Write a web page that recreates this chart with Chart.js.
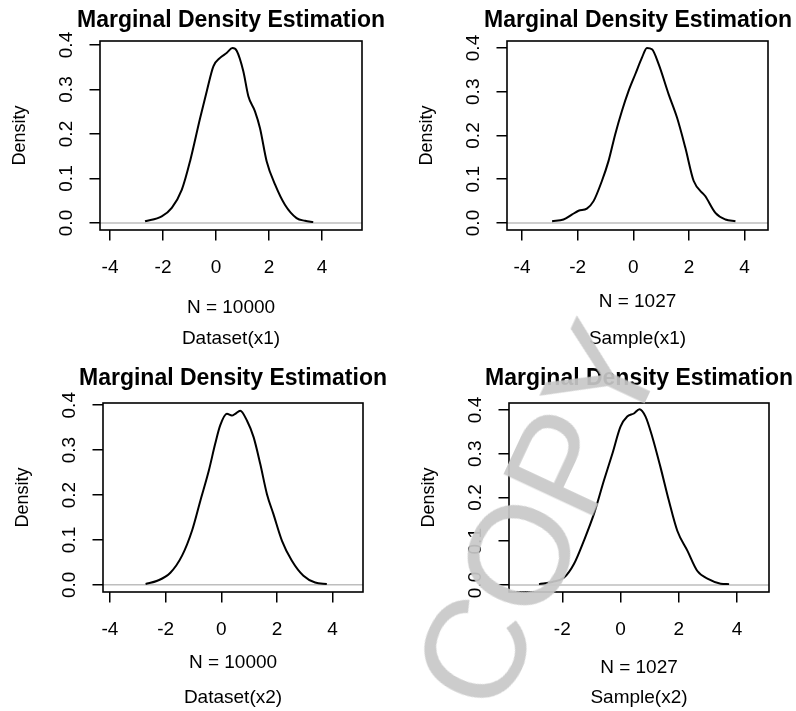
<!DOCTYPE html>
<html>
<head>
<meta charset="utf-8">
<script src="https://cdn.jsdelivr.net/npm/chart.js@4/dist/chart.umd.min.js"></script>
<style>
  html, body { margin: 0; padding: 0; background: #ffffff; width: 796px; height: 711px; overflow: hidden; position: relative; }
  canvas { position: absolute; }
  #wm { position: absolute; left: 538px; top: 516px; font-family: "Liberation Sans", Arial, sans-serif; font-size: 142px; color: rgba(200,200,200,0.92); white-space: nowrap; transform: translate(-50%, -50%) rotate(-65deg); line-height: 1; pointer-events: none; }
</style>
</head>
<body>
<canvas id="c1"></canvas>
<canvas id="c2"></canvas>
<canvas id="c3"></canvas>
<canvas id="c4"></canvas>
<div id="wm">COPY</div>
<script>
// ---------- Data ----------
const chartTitle = "Marginal Density Estimation";
const yAxisTitle = "Density";

const xTicksA = [-4, -2, 0, 2, 4];
const xTicksB = [-2, 0, 2, 4];
const xTickLabelsA = ["-4", "-2", "0", "2", "4"];
const xTickLabelsB = ["-2", "0", "2", "4"];
const yTicks = [0, 0.1, 0.2, 0.3, 0.4];
const yTickLabels = ["0.0", "0.1", "0.2", "0.3", "0.4"];

const subLabels = ["N = 10000", "N = 1027", "N = 10000", "N = 1027"];
const axisLabels = ["Dataset(x1)", "Sample(x1)", "Dataset(x2)", "Sample(x2)"];

// Dataset(x1)
const datasetX1_x = [-2.68, -2.05, -1.67, -1.29, -0.98, -0.60, -0.35, -0.10, 0.15, 0.40, 0.62, 0.78, 1.03, 1.22, 1.47, 1.66, 1.91, 2.23, 2.60, 3.04, 3.36, 3.67];
const datasetX1_y = [0.004, 0.015, 0.034, 0.075, 0.139, 0.236, 0.296, 0.352, 0.371, 0.382, 0.393, 0.387, 0.341, 0.285, 0.251, 0.213, 0.139, 0.086, 0.041, 0.011, 0.005, 0.002];

// Sample(x1)
const sampleX1_x = [-2.92, -2.51, -2.21, -1.97, -1.67, -1.43, -1.13, -0.89, -0.65, -0.41, -0.17, 0.07, 0.31, 0.49, 0.67, 0.91, 1.27, 1.57, 1.87, 2.17, 2.59, 2.95, 3.31, 3.67];
const sampleX1_y = [0.004, 0.008, 0.019, 0.028, 0.033, 0.050, 0.096, 0.142, 0.203, 0.256, 0.302, 0.340, 0.378, 0.400, 0.397, 0.363, 0.294, 0.241, 0.172, 0.096, 0.061, 0.023, 0.008, 0.004];

// Dataset(x2)
const datasetX2_x = [-2.72, -2.30, -1.83, -1.41, -1.05, -0.75, -0.45, -0.22, -0.04, 0.20, 0.38, 0.50, 0.68, 0.92, 1.16, 1.40, 1.64, 1.87, 2.18, 2.53, 2.95, 3.37, 3.79];
const datasetX2_y = [0.002, 0.009, 0.027, 0.065, 0.121, 0.188, 0.254, 0.314, 0.355, 0.381, 0.377, 0.381, 0.388, 0.366, 0.329, 0.269, 0.202, 0.158, 0.098, 0.054, 0.020, 0.005, 0.002];

// Sample(x2)
const sampleX2_x = [-2.80, -2.34, -1.94, -1.60, -1.26, -0.91, -0.57, -0.28, 0.00, 0.23, 0.46, 0.65, 0.86, 1.09, 1.37, 1.66, 1.95, 2.30, 2.64, 3.04, 3.44, 3.73];
const sampleX2_y = [0.002, 0.007, 0.017, 0.048, 0.101, 0.163, 0.239, 0.300, 0.362, 0.385, 0.392, 0.402, 0.385, 0.339, 0.270, 0.193, 0.124, 0.078, 0.032, 0.013, 0.003, 0.002];

// ---------- Layout (positions, not data) ----------
const FONT = '"Liberation Sans", Arial, Helvetica, sans-serif';
const CW = 470, CH = 380;
const panels = [
  { id: 'c1', ct: 0,   box: { l: 100, r: 362, t: 41,  b: 230 }, xr: [-4.38, 5.51], yr: [-0.0157, 0.409], titleY: 20.2,  sub1Y: 307.7, sub2Y: 338.5, xs: datasetX1_x, ys: datasetX1_y, xt: xTicksA, xl: xTickLabelsA, k: 0 },
  { id: 'c2', ct: 0,   box: { l: 507, r: 768, t: 41,  b: 230 }, xr: [-4.54, 4.84], yr: [-0.016, 0.416],  titleY: 20.5,  sub1Y: 301.5, sub2Y: 338.5, xs: sampleX1_x,  ys: sampleX1_y,  xt: xTicksA, xl: xTickLabelsA, k: 1 },
  { id: 'c3', ct: 350, box: { l: 103, r: 363, t: 403, b: 592 }, xr: [-4.25, 5.09], yr: [-0.016, 0.405],  titleY: 378.2, sub1Y: 662.7, sub2Y: 697.7, xs: datasetX2_x, ys: datasetX2_y, xt: xTicksA, xl: xTickLabelsA, k: 2 },
  { id: 'c4', ct: 350, box: { l: 509, r: 769, t: 403, b: 592 }, xr: [-3.83, 5.10], yr: [-0.016, 0.416],  titleY: 378.5, sub1Y: 667.7, sub2Y: 697.7, xs: sampleX2_x,  ys: sampleX2_y,  xt: xTicksB, xl: xTickLabelsB, k: 3 }
];

const framePlugin = {
  id: 'rframe',
  beforeDatasetsDraw(chart) {
    const { ctx, chartArea } = chart;
    const y0 = chart.scales.y.getPixelForValue(0);
    ctx.save();
    ctx.strokeStyle = '#bebebe';
    ctx.lineWidth = 1.5;
    ctx.beginPath();
    ctx.moveTo(chartArea.left, y0);
    ctx.lineTo(chartArea.right, y0);
    ctx.stroke();
    ctx.restore();
  },
  afterDatasetsDraw(chart) {
    const { ctx, chartArea } = chart;
    ctx.save();
    ctx.strokeStyle = '#000';
    ctx.lineWidth = 1.6;
    ctx.strokeRect(chartArea.left, chartArea.top, chartArea.right - chartArea.left, chartArea.bottom - chartArea.top);
    ctx.restore();
  }
};

panels.forEach(p => {
  const cv = document.getElementById(p.id);
  const cl = Math.round((p.box.l + p.box.r) / 2 - CW / 2);
  cv.width = CW; cv.height = CH;
  cv.style.left = cl + 'px'; cv.style.top = p.ct + 'px';

  const titleSize = 23, titleLH = titleSize * 1.2;
  const tPadTop = p.titleY - p.ct - titleLH / 2;
  const tPadBot = (p.box.t - p.ct) - titleLH - tPadTop;

  const subSize = 19;
  const L = p.sub2Y - p.sub1Y;
  const xTitlePadBot = (p.ct + CH) - p.sub2Y - L / 2;

  const yTitleSize = 18, yTitleLH = yTitleSize * 1.2;
  const yTitlePadTop = (p.box.l - 80) - cl - yTitleLH / 2;

  const tickLen = 10.5;
  const tickFont = 19;
  const widest = 1.39 * tickFont;
  const yTickPad = 34 - 1 - tickLen - widest / 2;

  const points = p.xs.map((x, i) => ({ x: x, y: p.ys[i] }));

  new Chart(cv, {
    type: 'line',
    data: {
      datasets: [{
        data: points,
        borderColor: '#000',
        borderWidth: 2,
        pointRadius: 0,
        fill: false,
        cubicInterpolationMode: 'monotone'
      }]
    },
    options: {
      responsive: false,
      animation: false,
      devicePixelRatio: 1,
      events: [],
      layout: { padding: 0 },
      plugins: {
        legend: { display: false },
        tooltip: { enabled: false },
        title: {
          display: true,
          text: chartTitle,
          fullSize: true,
          color: '#000',
          font: { family: FONT, size: titleSize, weight: 'bold', lineHeight: 1.2 },
          padding: { top: tPadTop, bottom: tPadBot }
        }
      },
      scales: {
        x: {
          type: 'linear',
          position: 'bottom',
          min: p.xr[0], max: p.xr[1],
          afterBuildTicks: s => { s.ticks = p.xt.map(v => ({ value: v })); },
          afterFit: s => { s.height = (p.ct + CH) - p.box.b; },
          border: { display: false },
          grid: { display: true, drawOnChartArea: false, drawTicks: true, tickLength: tickLen, color: '#000', lineWidth: 1.5 },
          ticks: {
            color: '#000',
            padding: 16,
            maxRotation: 0, minRotation: 0,
            font: { family: FONT, size: tickFont },
            callback: (v) => { const i = p.xt.indexOf(v); return i >= 0 ? p.xl[i] : ''; }
          },
          title: {
            display: true,
            text: [subLabels[p.k], axisLabels[p.k]],
            color: '#000',
            font: { family: FONT, size: subSize, lineHeight: L / subSize },
            padding: { top: 0, bottom: xTitlePadBot }
          }
        },
        y: {
          type: 'linear',
          position: 'left',
          min: p.yr[0], max: p.yr[1],
          afterBuildTicks: s => { s.ticks = yTicks.map(v => ({ value: v })); },
          afterFit: s => { s.width = p.box.l - cl; },
          border: { display: false },
          grid: { display: true, drawOnChartArea: false, drawTicks: true, tickLength: tickLen, color: '#000', lineWidth: 1.5 },
          ticks: {
            color: '#000',
            padding: yTickPad,
            minRotation: 90, maxRotation: 90,
            crossAlign: 'center',
            font: { family: FONT, size: tickFont },
            callback: (v) => { const i = yTicks.findIndex(t => Math.abs(t - v) < 1e-9); return i >= 0 ? yTickLabels[i] : ''; }
          },
          title: {
            display: true,
            text: yAxisTitle,
            color: '#000',
            font: { family: FONT, size: yTitleSize, lineHeight: 1.2 },
            padding: { top: yTitlePadTop, bottom: 0 }
          }
        },
        yRight: {
          type: 'linear',
          position: 'right',
          display: true,
          min: p.yr[0], max: p.yr[1],
          afterFit: s => { s.width = (cl + CW) - p.box.r; },
          border: { display: false },
          grid: { display: false, drawTicks: false },
          ticks: { display: false },
          title: { display: false }
        }
      }
    },
    plugins: [framePlugin]
  });
});
</script>
</body>
</html>
